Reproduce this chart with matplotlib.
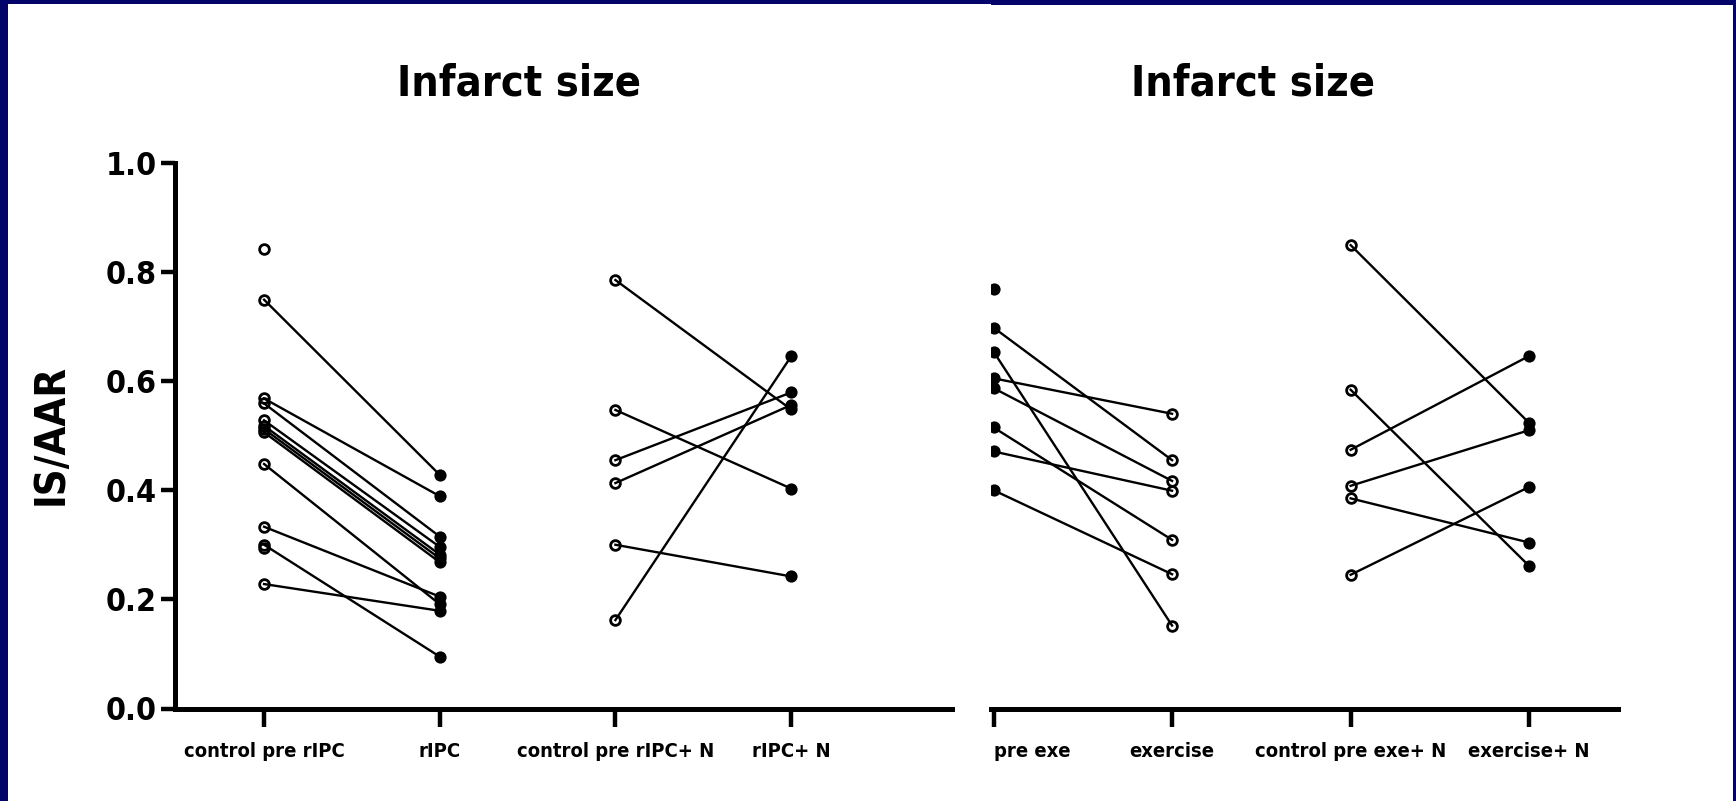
import numpy as np
import matplotlib
matplotlib.use("Agg")
import matplotlib.pyplot as plt
from matplotlib.patches import Rectangle

plt.rcParams['font.family'] = ['DejaVu Sans']
plt.rcParams['font.stretch'] = 'condensed'
plt.rcParams['font.weight'] = 'bold'

nan = np.nan
# ---- data (IS/AAR) ----
left_categories = ["control pre rIPC", "rIPC", "control pre rIPC+ N", "rIPC+ N"]
right_categories = ["pre exe", "exercise", "control pre exe+ N", "exercise+ N"]

ctrl_pre_rIPC = [0.842, 0.749, 0.568, 0.559, 0.528, 0.518, 0.512, 0.506, 0.448, 0.333, 0.300, 0.294, 0.228]
rIPC          = [nan,   0.428, 0.389, 0.315, 0.296, 0.282, 0.275, 0.268, 0.191, 0.205, 0.095, nan,   0.179]

ctrl_pre_rIPC_N = [0.785, 0.547, 0.455, 0.413, 0.300, 0.162]
rIPC_N          = [0.548, 0.403, 0.579, 0.556, 0.242, 0.645]

pre_exe  = [0.769, 0.698, 0.654, 0.605, 0.587, 0.515, 0.471, 0.400]
exercise = [nan,   0.455, 0.152, 0.540, 0.417, 0.309, 0.399, 0.246]

ctrl_pre_exe_N = [0.849, 0.584, 0.474, 0.408, 0.385, 0.245]
exercise_N     = [0.523, 0.261, 0.646, 0.510, 0.304, 0.406]

y_ticks = [0.0, 0.2, 0.4, 0.6, 0.8, 1.0]
y_ticklabels = ["0.0", "0.2", "0.4", "0.6", "0.8", "1.0"]

NAVY = '#03036a'
W, H = 1736, 801

fig = plt.figure(figsize=(W / 100, H / 100), dpi=100)
fig.patch.set_facecolor(NAVY)

# white panels (two pasted images)
fig.patches.append(Rectangle((8 / W, 0), (991 - 8) / W, (H - 4) / H,
                             transform=fig.transFigure, facecolor='white',
                             edgecolor='none', zorder=-5))
fig.patches.append(Rectangle((991 / W, 0), (1732.5 - 991) / W, (H - 5) / H,
                             transform=fig.transFigure, facecolor='white',
                             edgecolor='none', zorder=-5))

bottom = (H - 708.5) / H
height = (708.5 - 162.7) / H
axL = fig.add_axes([175 / W, bottom, (952 - 175) / W, height], zorder=2)
axR = fig.add_axes([991 / W, bottom, (1618.5 - 991) / W, height], zorder=2)

LW = 1.7
OPEN = dict(marker='o', ms=7.0, mfc='none', mec='black', mew=2.0, ls='none', color='black')
FILL = dict(marker='o', ms=8.8, mfc='black', mec='black', mew=0, ls='none', color='black')


def pairs(ax, x0, x1, a, b, sa, sb):
    for va, vb in zip(a, b):
        if not (np.isnan(va) or np.isnan(vb)):
            ax.plot([x0, x1], [va, vb], color='black', lw=LW, zorder=2)
    ax.plot(np.full(len(a), x0), a, zorder=3, **sa)
    ax.plot(np.full(len(b), x1), b, zorder=3, **sb)


pairs(axL, 0, 1, ctrl_pre_rIPC, rIPC, OPEN, FILL)
pairs(axL, 2, 3, ctrl_pre_rIPC_N, rIPC_N, OPEN, FILL)
pairs(axR, 0, 1, pre_exe, exercise, FILL, OPEN)
pairs(axR, 2, 3, ctrl_pre_exe_N, exercise_N, OPEN, FILL)

axL.set_xlim(-0.507, 3.916)
axR.set_xlim(-0.014, 3.50)

for ax, cats in ((axL, left_categories), (axR, right_categories)):
    ax.set_facecolor('none')
    ax.set_ylim(0, 1)
    ax.set_xticks(range(len(cats)))
    ax.set_xticklabels(cats, fontsize=14.5, fontweight='bold')
    ax.spines['top'].set_visible(False)
    ax.spines['right'].set_visible(False)
    ax.spines['bottom'].set_linewidth(3.6)
    ax.spines['left'].set_linewidth(3.6)
    ax.tick_params(axis='x', length=13, width=3.2, pad=11, direction='out')

axL.set_yticks(y_ticks)
axL.set_yticklabels(y_ticklabels, fontsize=23, fontweight='bold')
axL.tick_params(axis='y', length=10, width=3.2, pad=3, direction='out')

axR.spines['left'].set_visible(False)
axR.set_yticks([])
axR.get_xticklabels()[0].set_ha('left')

fig.text(51 / W, 1 - 434 / H, "IS/AAR", rotation=90, ha='center', va='center',
         fontsize=30, fontweight='bold')
fig.text(519 / W, 1 - 96 / H, "Infarct size", ha='center', va='baseline',
         fontsize=31, fontweight='bold')
fig.text(1253 / W, 1 - 96 / H, "Infarct size", ha='center', va='baseline',
         fontsize=31, fontweight='bold')

fig.savefig("out.png", dpi=100, facecolor=fig.get_facecolor())
